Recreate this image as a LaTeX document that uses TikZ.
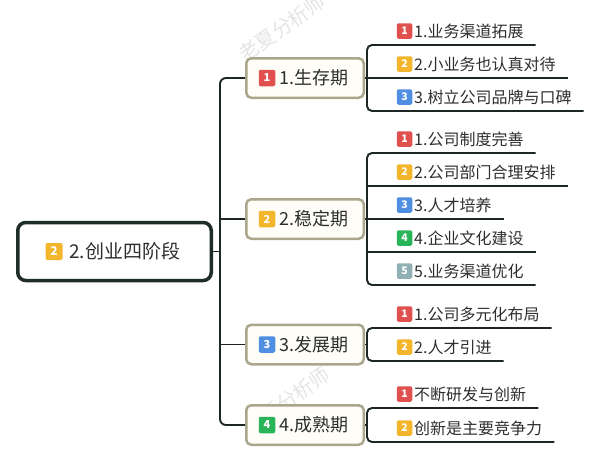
\documentclass[tikz,border=0pt]{standalone}
\usepackage{fontspec}
\newfontfamily\cjk{Noto Sans CJK SC}
\usetikzlibrary{calc}
\definecolor{rootc}{HTML}{1E2D29}
\definecolor{linec}{HTML}{1C2724}
\definecolor{lvlc}{HTML}{A9A68C}
\definecolor{lvlfill}{HTML}{FEFDF7}
\definecolor{txtc}{HTML}{2E2E2E}
\definecolor{cred}{HTML}{E0504E}
\definecolor{corg}{HTML}{F2B52C}
\definecolor{cblu}{HTML}{4F8EE0}
\definecolor{cgrn}{HTML}{29B45A}
\definecolor{cgry}{HTML}{8FB1B5}
\definecolor{wmc}{HTML}{E4E4E4}
\tikzset{
  rootbox/.style={draw=rootc, line width=3.5pt, rounded corners=8pt, fill=white,
    minimum width=193.5pt, minimum height=58pt, inner sep=0pt},
  lvlbox/.style={draw=lvlc, line width=2.5pt, rounded corners=5pt, fill=lvlfill,
    minimum width=117.5pt, minimum height=39.5pt, inner sep=0pt},
  bdg/.style={fill=#1, rounded corners=2pt, minimum size=15.5pt, inner sep=0pt,
    text=white, font=\cjk\bfseries\fontsize{10.5}{10.5}\selectfont},
  bdgl/.style={bdg=#1, minimum size=16.5pt, font=\cjk\bfseries\fontsize{11}{11}\selectfont},
  bdgr/.style={bdg=#1, minimum size=17pt, font=\cjk\bfseries\fontsize{12}{12}\selectfont},
  itemtxt/.style={anchor=west, inner sep=0pt, text=txtc, font=\cjk\fontsize{16}{17}\selectfont},
  lvltxt/.style={anchor=west, inner sep=0pt, text=txtc, font=\cjk\fontsize{18}{19}\selectfont},
  roottxt/.style={anchor=west, inner sep=0pt, text=txtc, font=\cjk\fontsize{19}{20}\selectfont},
  conn/.style={draw=linec, line width=1.9pt, rounded corners=5pt},
  wm/.style={text=wmc, font=\cjk\fontsize{20}{20}\selectfont, rotate=35},
}
\begin{document}
\begin{tikzpicture}[x=1pt, y=-1pt]
\useasboundingbox (0,0) rectangle (603,463);
% watermarks
\node[wm] (wm1) at (282,28) {老夏分析师};
\node[wm] (wm2) at (287,401) {老夏分析师};

% root
\node[rootbox] (root) at (114.5,251.5) {};
\node[bdgr=corg] (rootb) at (54,251.5) {2};
\node[roottxt] (roott) at (69,251.5) {2.创业四阶段};

% level 1
\node[lvlbox] (n1) at (305,78) {};
\node[bdgl=cred] (n1b) at (267,78) {1};
\node[lvltxt] (n1t) at (279,78) {1.生存期};

\node[lvlbox] (n2) at (305,219) {};
\node[bdgl=corg] (n2b) at (267,219) {2};
\node[lvltxt] (n2t) at (279,219) {2.稳定期};

\node[lvlbox] (n3) at (305,344.5) {};
\node[bdgl=cblu] (n3b) at (267,344.5) {3};
\node[lvltxt] (n3t) at (279,344.5) {3.发展期};

\node[lvlbox] (n4) at (305,425) {};
\node[bdgl=cgrn] (n4b) at (267,425) {4};
\node[lvltxt] (n4t) at (279,425) {4.成熟期};

% spine
\coordinate (sp1) at (220,78);
\coordinate (sp4) at (220,425);
\draw[conn, rounded corners=6pt] (n1.west) -- (sp1) -- (sp4) -- (n4.west);
\draw[conn] (root.east) -- (220,251.5);
\draw[conn] (n2.west) -- (220,219);
\draw[conn] (n3.west) -- (220,344.5);

% group 1
\node[bdg=cred] (a1b) at (404.5,31) {1};
\node[itemtxt] (a1) at (414,31) {1.业务渠道拓展};
\node[bdg=corg] (a2b) at (404.5,64) {2};
\node[itemtxt] (a2) at (414,64) {2.小业务也认真对待};
\node[bdg=cblu] (a3b) at (404.5,97) {3};
\node[itemtxt] (a3) at (414,97) {3.树立公司品牌与口碑};
\draw[conn] ($(a1.east)+(12,14)$) -- (367,45) -- (367,111) -- ($(a3.east)+(12,14)$);
\draw[conn] (n1.east) -- ($(a2.east)+(12,14)$);

% group 2
\node[bdg=cred] (b1b) at (404.5,139) {1};
\node[itemtxt] (b1) at (414,139) {1.公司制度完善};
\node[bdg=corg] (b2b) at (404.5,172) {2};
\node[itemtxt] (b2) at (414,172) {2.公司部门合理安排};
\node[bdg=cblu] (b3b) at (404.5,205) {3};
\node[itemtxt] (b3) at (414,205) {3.人才培养};
\node[bdg=cgrn] (b4b) at (404.5,238) {4};
\node[itemtxt] (b4) at (414,238) {4.企业文化建设};
\node[bdg=cgry] (b5b) at (404.5,271) {5};
\node[itemtxt] (b5) at (414,271) {5.业务渠道优化};
\draw[conn] ($(b1.east)+(12,14)$) -- (367,153) -- (367,285) -- ($(b5.east)+(12,14)$);
\draw[conn] (367,186) -- ($(b2.east)+(12,14)$);
\draw[conn] (n2.east) -- ($(b3.east)+(12,14)$);
\draw[conn] (367,252) -- ($(b4.east)+(12,14)$);

% group 3
\node[bdg=cred] (c1b) at (404.5,314) {1};
\node[itemtxt] (c1) at (414,314) {1.公司多元化布局};
\node[bdg=corg] (c2b) at (404.5,347) {2};
\node[itemtxt] (c2) at (414,347) {2.人才引进};
\draw[conn] ($(c1.east)+(12,14)$) -- (367,328) -- (367,361) -- ($(c2.east)+(12,14)$);
\draw[conn] (n3.east) -- (367,344.5);

% group 4
\node[bdg=cred] (d1b) at (404.5,394) {1};
\node[itemtxt] (d1) at (414,394) {不断研发与创新};
\node[bdg=corg] (d2b) at (404.5,428) {2};
\node[itemtxt] (d2) at (414,428) {创新是主要竞争力};
\draw[conn] ($(d1.east)+(12,14)$) -- (367,408) -- (367,442) -- ($(d2.east)+(12,14)$);
\draw[conn] (n4.east) -- (367,425);
\end{tikzpicture}
\end{document}
